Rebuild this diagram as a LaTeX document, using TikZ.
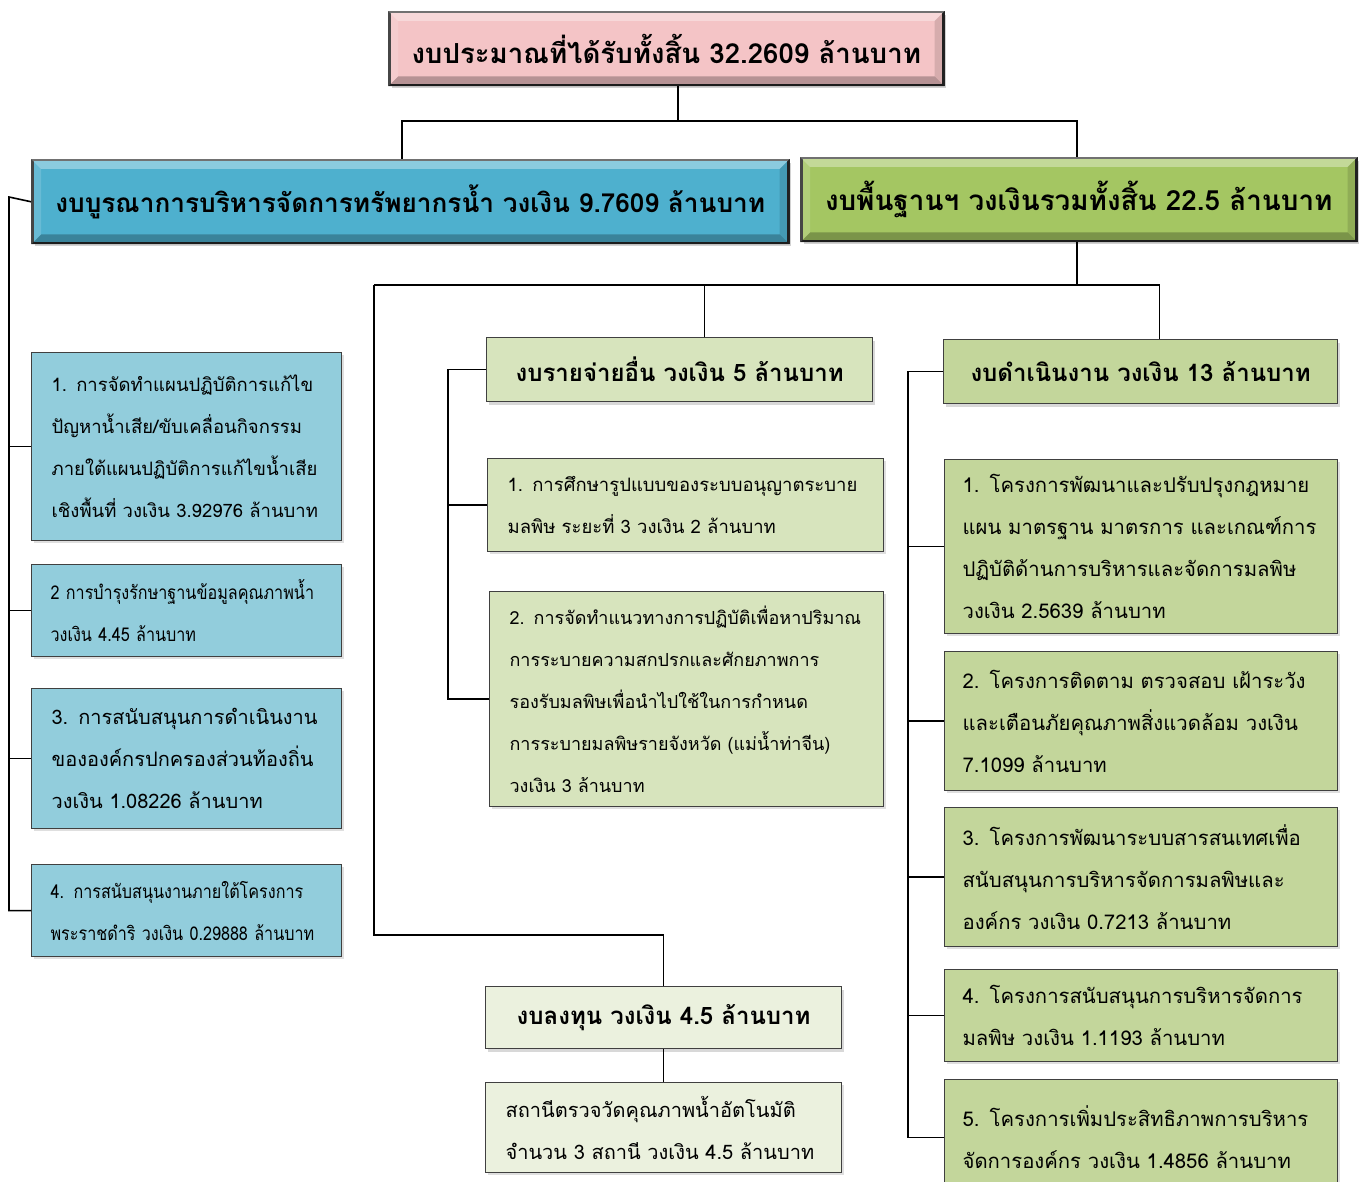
\documentclass[tikz,border=0pt]{standalone}
\usepackage{fontspec}
\newfontfamily\thai[Script=Thai]{Loma}
\newfontfamily\thainarrow[Script=Thai, FakeStretch=0.85]{Loma}
\usetikzlibrary{shadows}

\definecolor{pinkhd}{RGB}{244,196,198}
\definecolor{bluehd}{RGB}{78,176,206}
\definecolor{greenhd}{RGB}{164,198,98}
\definecolor{blueitem}{RGB}{146,205,220}
\definecolor{miditem}{RGB}{215,228,189}
\definecolor{rightitem}{RGB}{195,214,155}
\definecolor{invitem}{RGB}{235,241,222}

\tikzset{
  hdbox/.style={draw=black!85, line width=2.5pt, anchor=north west, inner sep=0pt,
    align=center, drop shadow={opacity=0.35, shadow xshift=3pt, shadow yshift=-3pt}},
  hsize/.style={font=\thai\bfseries\fontsize{#1}{32}\selectfont},
  subhd/.style={draw=black!75, line width=1.2pt, anchor=north west, inner sep=0pt,
    align=center, font=\thai\bfseries\fontsize{24}{28}\selectfont,
    drop shadow={opacity=0.3, shadow xshift=2pt, shadow yshift=-3pt}},
  itembox/.style={draw=black!75, line width=1.2pt, anchor=north west, inner xsep=20pt,
    inner ysep=0pt, align=left, font=\thai\fontsize{20}{42}\selectfont,
    drop shadow={opacity=0.25, shadow xshift=2pt, shadow yshift=-2pt}},
  isize/.style={font=\thai\fontsize{#1}{42}\selectfont},
  nsize/.style={font=\thainarrow\fontsize{#1}{42}\selectfont},
  link/.style={line width=1.6pt}
}

% bevelled edge of a header box
\newcommand{\bevel}[1]{%
  \fill[white, opacity=0.35] (#1.north west) -- (#1.north east)
    -- ([shift={(-10,10)}]#1.north east) -- ([shift={(10,10)}]#1.north west) -- cycle;
  \fill[white, opacity=0.15] (#1.north west) -- ([shift={(10,10)}]#1.north west)
    -- ([shift={(10,-10)}]#1.south west) -- (#1.south west) -- cycle;
  \fill[black, opacity=0.12] (#1.north east) -- ([shift={(-10,10)}]#1.north east)
    -- ([shift={(-10,-10)}]#1.south east) -- (#1.south east) -- cycle;
  \fill[black, opacity=0.25] (#1.south west) -- ([shift={(10,-10)}]#1.south west)
    -- ([shift={(-10,-10)}]#1.south east) -- (#1.south east) -- cycle;
}

\begin{document}
\begin{tikzpicture}[x=1pt, y=-1pt]
  \useasboundingbox[fill=white] (0,0) rectangle (1364,1182);

  % main headers
  \node[hdbox, hsize=27.6, fill=pinkhd, minimum width=554, minimum height=73] (top) at (388,11)
    {งบประมาณที่ได้รับทั้งสิ้น 32.2609 ล้านบาท};
  \node[hdbox, hsize=26.2, fill=bluehd, minimum width=756, minimum height=83] (blue) at (31,159)
    {งบบูรณาการบริหารจัดการทรัพยากรน้ำ วงเงิน 9.7609 ล้านบาท};
  \node[hdbox, hsize=27.8, fill=greenhd, minimum width=555, minimum height=83] (green) at (800,157)
    {งบพื้นฐานฯ วงเงินรวมทั้งสิ้น 22.5 ล้านบาท};
  \bevel{top}
  \bevel{blue}
  \bevel{green}

  % integrated budget items
  \node[itembox, isize=18.5, fill=blueitem, text width=270, minimum height=188] (l1) at (31,352)
    {1. การจัดทำแผนปฏิบัติการแก้ไข\\ปัญหาน้ำเสีย/ขับเคลื่อนกิจกรรม\\ภายใต้แผนปฏิบัติการแก้ไขน้ำเสีย\\เชิงพื้นที่ วงเงิน 3.92976 ล้านบาท};
  \node[itembox, nsize=19, fill=blueitem, text width=272, inner xsep=19, minimum height=92] (l2) at (31,564)
    {2 การบำรุงรักษาฐานข้อมูลคุณภาพน้ำ\\วงเงิน 4.45 ล้านบาท};
  \node[itembox, fill=blueitem, text width=270, minimum height=140] (l3) at (31,688)
    {3. การสนับสนุนการดำเนินงาน\\ขององค์กรปกครองส่วนท้องถิ่น\\วงเงิน 1.08226 ล้านบาท};
  \node[itembox, nsize=19, fill=blueitem, text width=272, inner xsep=19, minimum height=92] (l4) at (31,864)
    {4. การสนับสนุนงานภายใต้โครงการ\\พระราชดำริ วงเงิน 0.29888 ล้านบาท};

  % other expenses
  \node[subhd, fill=miditem, minimum width=386, minimum height=64] (mh) at (486,337)
    {งบรายจ่ายอื่น วงเงิน 5 ล้านบาท};
  \node[itembox, isize=18.5, fill=miditem, text width=356, minimum height=93] (m1) at (487,458)
    {1. การศึกษารูปแบบของระบบอนุญาตระบาย\\มลพิษ ระยะที่ 3 วงเงิน 2 ล้านบาท};
  \node[itembox, isize=18, fill=miditem, text width=354, minimum height=215] (m2) at (489,591)
    {2. การจัดทำแนวทางการปฏิบัติเพื่อหาปริมาณ\\การระบายความสกปรกและศักยภาพการ\\รองรับมลพิษเพื่อนำไปใช้ในการกำหนด\\การระบายมลพิษรายจังหวัด (แม่น้ำท่าจีน)\\วงเงิน 3 ล้านบาท};

  % investment
  \node[subhd, fill=invitem, minimum width=356, minimum height=62] (inv) at (485,986)
    {งบลงทุน วงเงิน 4.5 ล้านบาท};
  \node[itembox, fill=invitem, text width=316, minimum height=90] (i1) at (485,1082)
    {สถานีตรวจวัดคุณภาพน้ำอัตโนมัติ\\จำนวน 3 สถานี วงเงิน 4.5 ล้านบาท};

  % operating budget
  \node[subhd, fill=rightitem, minimum width=394, minimum height=64] (rh) at (943,339)
    {งบดำเนินงาน วงเงิน 13 ล้านบาท};
  \node[itembox, isize=20.3, fill=rightitem, text width=357, inner xsep=18, minimum height=174] (r1) at (944,459)
    {1. โครงการพัฒนาและปรับปรุงกฎหมาย\\แผน มาตรฐาน มาตรการ และเกณฑ์การ\\ปฏิบัติด้านการบริหารและจัดการมลพิษ\\วงเงิน 2.5639 ล้านบาท};
  \node[itembox, isize=20.3, fill=rightitem, text width=357, inner xsep=18, minimum height=139] (r2) at (944,651)
    {2. โครงการติดตาม ตรวจสอบ เฝ้าระวัง\\และเตือนภัยคุณภาพสิ่งแวดล้อม วงเงิน\\7.1099 ล้านบาท};
  \node[itembox, isize=20.3, fill=rightitem, text width=357, inner xsep=18, minimum height=139] (r3) at (944,807)
    {3. โครงการพัฒนาระบบสารสนเทศเพื่อ\\สนับสนุนการบริหารจัดการมลพิษและ\\องค์กร วงเงิน 0.7213 ล้านบาท};
  \node[itembox, isize=20.3, fill=rightitem, text width=357, inner xsep=18, minimum height=92] (r4) at (944,969)
    {4. โครงการสนับสนุนการบริหารจัดการ\\มลพิษ วงเงิน 1.1193 ล้านบาท};
  \node[itembox, isize=20.3, fill=rightitem, text width=357, inner xsep=18, minimum height=116] (r5) at (944,1079)
    {5. โครงการเพิ่มประสิทธิภาพการบริหาร\\จัดการองค์กร วงเงิน 1.4856 ล้านบาท};

  % junctions
  \coordinate (j1) at (678,121);
  \coordinate (j2) at (1077,285);
  \coordinate (j3) at (374,285);
  \coordinate (j4) at (374,935);
  \coordinate (ls) at (9,197);
  \coordinate (ms) at (448,365);
  \coordinate (rs) at (908,375);

  % connectors
  \draw[link] (j1 |- top.south) -- (j1);
  \draw[link] ([xshift=-8]blue.north) |- (j1) -| ([xshift=-2]green.north);
  \draw[link] (blue.west) -- (ls) |- (l4.west);
  \foreach \n in {l1,l2,l3}
    \draw[link] (ls |- \n.west) -- (\n.west);
  \draw[link] (j2 |- green.south) -- (j2);
  \draw[link] (j3) -| ([xshift=19]rh.north);
  \draw[link] ([xshift=25]mh.north) -- ([xshift=25]mh.north |- j2);
  \draw[link] (j3) -- (j4) -| (inv.north);
  \draw[link] (inv.south) -- (i1.north);
  \draw[link] (mh.west) -- (mh.west -| ms) |- (m2.west);
  \draw[link] (ms |- m1.west) -- (m1.west);
  \draw[link] (rh.west) -- (rh.west -| rs) |- (r5.west);
  \foreach \n in {r1,r2,r3,r4}
    \draw[link] (rs |- \n.west) -- (\n.west);
\end{tikzpicture}
\end{document}
